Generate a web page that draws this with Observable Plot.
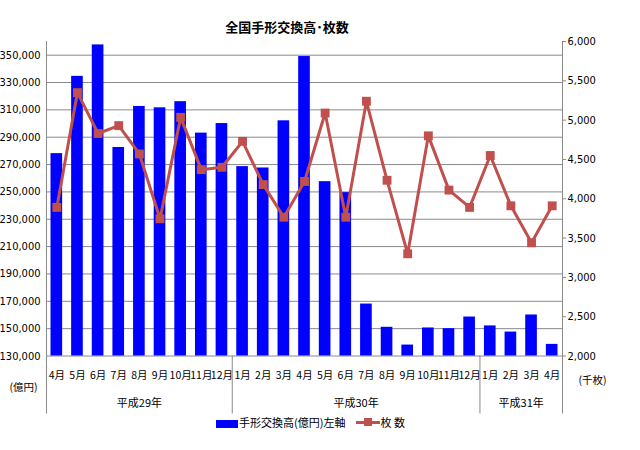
<!DOCTYPE html>
<html>
<head>
<meta charset="utf-8">
<script src="https://cdn.jsdelivr.net/npm/d3@7"></script>
<script src="https://cdn.jsdelivr.net/npm/@observablehq/plot@0.6"></script>
<style>
  body { margin: 0; background: #fff; width: 640px; height: 450px; overflow: hidden; position: relative;
         font-family: "Noto Sans CJK JP", "Liberation Sans", sans-serif; }
  #chart { position: absolute; left: 0; top: 0; }
  #title { position: absolute; top: 17px; left: 187px; width: 200px; text-align: center;
           font-size: 13px; font-weight: bold; color: #000; }
  #legend { position: absolute; top: 414px; left: 216px; font-size: 11px; color: #000;
            display: flex; align-items: center; white-space: nowrap; }
  .sw-bar { width: 22px; height: 8px; background: #0000ff; margin-right: 1px; margin-top: 3px; }
  .sw-line { position: relative; width: 24px; height: 3px; background: #c0504d; margin-left: 11px; }
  .sw-line span { position: absolute; left: 8px; top: -3px; width: 8px; height: 8px; background: #c0504d; }
</style>
</head>
<body>
<div id="chart"></div>
<div id="title">全国手形交換高･枚数</div>
<div id="legend">
  <div class="sw-bar"></div><span>手形交換高(億円)左軸</span>
  <div class="sw-line"><span></span></div><span>枚 数</span>
</div>
<script>
// ---- data ----
const months = ["4月","5月","6月","7月","8月","9月","10月","11月","12月",
                "1月","2月","3月","4月","5月","6月","7月","8月","9月","10月","11月","12月",
                "1月","2月","3月","4月"];
const years = ["平成29年", "平成30年", "平成31年"];
const yearMonthCounts = [9, 12, 4];
// 手形交換高 (億円), left axis
const amounts = [278000, 334500, 357500, 282500, 312500, 311500, 316000, 293000, 300000,
                 268500, 267500, 302000, 349000, 257500, 249500, 168000, 151000, 138000, 150500, 150000, 158500,
                 152000, 147500, 160000, 138500];
// 枚数 (千枚), right axis
const counts = [3890, 5350, 4830, 4930, 4570, 3745, 5035, 4370, 4400,
                4730, 4180, 3765, 4220, 5090, 3765, 5240, 4235, 3300, 4800, 4110, 3890,
                4550, 3910, 3440, 3910];
const leftTicks = [130000,150000,170000,190000,210000,230000,250000,270000,290000,310000,330000,350000];
const rightTicks = [2000,2500,3000,3500,4000,4500,5000,5500,6000];
const leftDomain = [130000, 360000];
const rightDomain = [2000, 6000];

// ---- derived ----
const k = (leftDomain[1] - leftDomain[0]) / (rightDomain[1] - rightDomain[0]);
const toLeft = v => leftDomain[0] + (v - rightDomain[0]) * k;
const fromLeft = v => Math.round(rightDomain[0] + (v - leftDomain[0]) / k);
const fmt = d3.format(",");
const data = months.map((m, i) => ({i, m, amount: amounts[i], count: counts[i]}));
let acc = 0;
const groups = years.map((label, j) => {
  const start = acc; acc += yearMonthCounts[j];
  return {label, start, end: acc, mid: (start + acc) / 2};
});
const edges = [0, months.length];
const inner = groups.slice(0, -1).map(g => g.end);

const grey = "#8a8a8a";
const numFont = "'Liberation Sans Narrow', 'DejaVu Sans Condensed', 'Liberation Sans', sans-serif";
const cjkFont = "'Noto Sans CJK JP', sans-serif";

const chart = Plot.plot({
  width: 640,
  height: 450,
  marginTop: 41,
  marginBottom: 94.5,
  marginLeft: 46,
  marginRight: 78,
  x: {domain: [0, months.length], axis: null},
  y: {domain: leftDomain, axis: null},
  style: {background: "white", color: "#000"},
  marks: [
    Plot.ruleY(leftTicks, {stroke: grey, strokeWidth: 1}),
    Plot.rectY(data, {x1: "i", x2: d => d.i + 1, y1: () => leftDomain[0], y2: "amount",
                      fill: "#0000ff", insetLeft: 4.5, insetRight: 4.5}),
    Plot.line(data, {x: d => d.i + 0.5, y: d => toLeft(d.count), stroke: "#c0504d", strokeWidth: 3}),
    Plot.dot(data, {x: d => d.i + 0.5, y: d => toLeft(d.count), symbol: "square", r: 5,
                    fill: "#c0504d", stroke: "none"}),
    Plot.ruleX(edges, {stroke: grey, insetBottom: -58}),
    Plot.ruleX(inner, {stroke: grey, insetTop: 314.5, insetBottom: -58}),
    Plot.axisY(leftTicks, {anchor: "left", label: null, tickSize: 0, tickPadding: 6, tickFormat: fmt,
                           fontSize: 11, fontFamily: numFont}),
    Plot.axisY(rightTicks.map(toLeft), {anchor: "right", label: null, tickSize: 3, tickPadding: 2, stroke: grey,
                           tickFormat: d => fmt(fromLeft(d)), fontSize: 11, fontFamily: numFont}),
    Plot.axisX(data.map(d => d.i + 0.5), {anchor: "bottom", label: null, tickSize: 0, tickPadding: 15.5,
                           tickFormat: d => months[Math.floor(d)], fontSize: 10.5, fontFamily: cjkFont}),
    Plot.text(groups, {x: "mid", text: "label", frameAnchor: "bottom", dy: 47.5, lineAnchor: "middle",
                       fontSize: 11, fontFamily: cjkFont}),
    Plot.text(["(億円)"], {frameAnchor: "bottom-left", dx: -23, dy: 31.5, lineAnchor: "middle",
                           textAnchor: "middle", fontSize: 10.5, fontFamily: cjkFont}),
    Plot.text(["(千枚)"], {frameAnchor: "bottom-right", dx: 16, dy: 24.5, lineAnchor: "middle",
                           textAnchor: "start", fontSize: 10.5, fontFamily: cjkFont})
  ]
});
document.getElementById("chart").appendChild(chart);
</script>
</body>
</html>
